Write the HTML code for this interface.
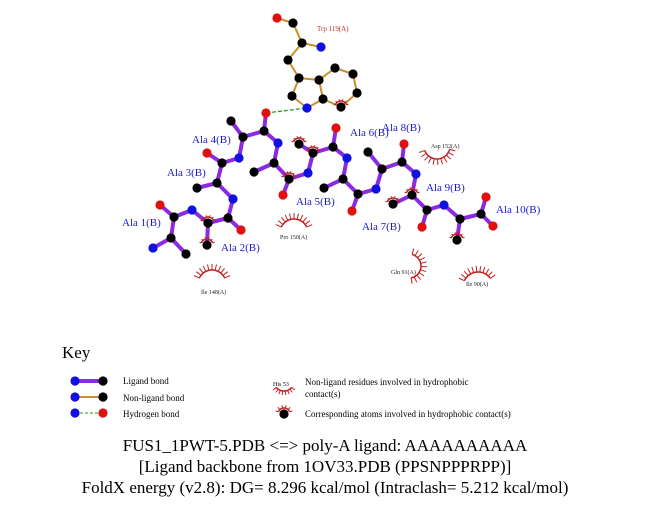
<!DOCTYPE html>
<html><head><meta charset="utf-8"><style>
html,body{margin:0;padding:0;background:#fff}
svg{display:block}
text{font-family:"Liberation Serif",serif}
</style></head><body>
<svg id="s" width="651" height="511" viewBox="0 0 651 511" xmlns="http://www.w3.org/2000/svg">
<g id="g"></g>
<text x="62" y="358" font-size="17">Key</text>
<text x="123" y="384" font-size="9">Ligand bond</text>
<text x="123" y="401" font-size="9">Non-ligand bond</text>
<text x="123" y="417" font-size="9">Hydrogen bond</text>
<text x="273" y="386" font-size="6">His 53</text>
<text x="305" y="385" font-size="9">Non-ligand residues involved in hydrophobic</text>
<text x="305" y="397" font-size="9">contact(s)</text>
<text x="305" y="417" font-size="9">Corresponding atoms involved in hydrophobic contact(s)</text>
<text x="325" y="451" font-size="17" text-anchor="middle">FUS1_1PWT-5.PDB &lt;=&gt; poly-A ligand: AAAAAAAAAA</text>
<text x="325" y="472" font-size="17" text-anchor="middle">[Ligand backbone from 1OV33.PDB (PPSNPPPRPP)]</text>
<text x="325" y="493" font-size="17" text-anchor="middle">FoldX energy (v2.8): DG= 8.296 kcal/mol (Intraclash= 5.212 kcal/mol)</text>
<g font-size="11" fill="#1a1acc">
<text x="122" y="226">Ala 1(B)</text>
<text x="221" y="251">Ala 2(B)</text>
<text x="167" y="176">Ala 3(B)</text>
<text x="192" y="143">Ala 4(B)</text>
<text x="296" y="205">Ala 5(B)</text>
<text x="350" y="136">Ala 6(B)</text>
<text x="382" y="131">Ala 8(B)</text>
<text x="362" y="230">Ala 7(B)</text>
<text x="426" y="191">Ala 9(B)</text>
<text x="496" y="213">Ala 10(B)</text>
</g>
<g font-size="6" fill="#222">
<text x="201" y="294">Ile 148(A)</text>
<text x="280" y="239">Pro 150(A)</text>
<text x="431" y="148">Asp 152(A)</text>
<text x="391" y="274">Gln 91(A)</text>
<text x="466" y="286">Ile 90(A)</text>
</g>
<text x="317" y="31" font-size="7" fill="#c03030">Trp 119(A)</text>
</svg>
<script>
var g=document.getElementById('g'),h='';
var R=[[[153,248],[171,238],[186,254],[174,217],[160,205]],
[[192,210],[208,223],[207,245],[228,218],[241,230]],
[[233,199],[217,183],[197,188],[222,163],[207,153]],
[[239,158],[243,137],[231,121],[264,131],[266,113]],
[[278,143],[274,163],[254,172],[289,179],[283,195]],
[[308,173],[313,153],[299,144],[333,147],[336,128]],
[[347,158],[343,179],[324,188],[358,194],[352,211]],
[[376,189],[382,169],[368,152],[402,162],[404,144]],
[[416,174],[412,195],[393,204],[427,210],[422,227]],
[[444,205],[460,219],[457,240],[481,214],[486,197]]];
var OXT=[493,226];
function L(a,b,c,w,d){h+='<line x1="'+a[0]+'" y1="'+a[1]+'" x2="'+b[0]+'" y2="'+b[1]+'" stroke="'+c+'" stroke-width="'+w+'"'+(d?' stroke-dasharray="'+d+'"':'')+'/>';}
function A(p,c){h+='<circle cx="'+p[0]+'" cy="'+p[1]+'" r="4.6" fill="'+c+'"/>';}
var P='#8a2be2',O='#c8902a';
var T={O:[277,18],C:[293,23],CA:[302,43],N:[321,47],CB:[288,60],CG:[299,78],CD1:[292,96],NE1:[307,108],CE2:[323,99],CD2:[319,80],CE3:[335,68],CZ3:[353,74],CH2:[357,93],CZ2:[341,107]};
[['O','C'],['C','CA'],['CA','N'],['CA','CB'],['CB','CG'],['CG','CD1'],['CD1','NE1'],['NE1','CE2'],['CE2','CD2'],['CD2','CG'],['CD2','CE3'],['CE3','CZ3'],['CZ3','CH2'],['CH2','CZ2'],['CZ2','CE2']].forEach(function(e){L(T[e[0]],T[e[1]],O,2);});
L(R[3][4],T.NE1,'#2a9a2a',1.3,'4,2');
for(var i=0;i<10;i++){var r=R[i];L(r[0],r[1],P,4);L(r[1],r[2],P,4);L(r[1],r[3],P,4);L(r[3],r[4],P,4);if(i<9)L(r[3],R[i+1][0],P,4);}
L(R[9][3],OXT,P,4);
function arc(cx,cy,rr,a0,a1,n,len){var d='';for(var k=0;k<=30;k++){var a=(a0+(a1-a0)*k/30)*Math.PI/180;d+=(k?'L':'M')+(cx+rr*Math.cos(a)).toFixed(1)+' '+(cy+rr*Math.sin(a)).toFixed(1);}
h+='<path d="'+d+'" fill="none" stroke="#c02020" stroke-width="1.5"/>';
for(var k=0;k<n;k++){var a=(a0+(a1-a0)*k/(n-1))*Math.PI/180;h+='<line x1="'+(cx+rr*Math.cos(a))+'" y1="'+(cy+rr*Math.sin(a))+'" x2="'+(cx+(rr+len)*Math.cos(a))+'" y2="'+(cy+(rr+len)*Math.sin(a))+'" stroke="#c02020" stroke-width="1"/>';}}
arc(212,284,14,205,335,11,6);
arc(294,233,14,205,335,11,6);
arc(437,146,13,15,160,11,6);
arc(409,266,12,-75,80,11,6);
arc(478,287,15,205,325,11,6);
arc(284,381,10,40,140,8,4);
[[207,245],[299,144],[393,204],[457,240],[313,153],[289,179],[208,223],[341,107],[412,195]].forEach(function(p){arc(p[0],p[1],6,200,340,6,2);});
arc(284,414,6,200,340,6,3);
for(i=0;i<10;i++){var r=R[i];A(r[0],'#1010e0');A(r[1],'#000');A(r[2],'#000');A(r[3],'#000');A(r[4],'#e01010');}
A(OXT,'#e01010');
for(var k in T){A(T[k],k=='O'?'#e01010':(k=='N'||k=='NE1')?'#1010e0':'#000');}
L([75,381],[103,381],P,4);A([75,381],'#1010e0');A([103,381],'#000');
L([75,397],[103,397],O,2);A([75,397],'#1010e0');A([103,397],'#000');
L([75,413],[103,413],'#2a9a2a',1,'3,2');A([75,413],'#1010e0');A([103,413],'#e01010');
A([284,414],'#000');
g.innerHTML=h;
</script>
</body></html>
